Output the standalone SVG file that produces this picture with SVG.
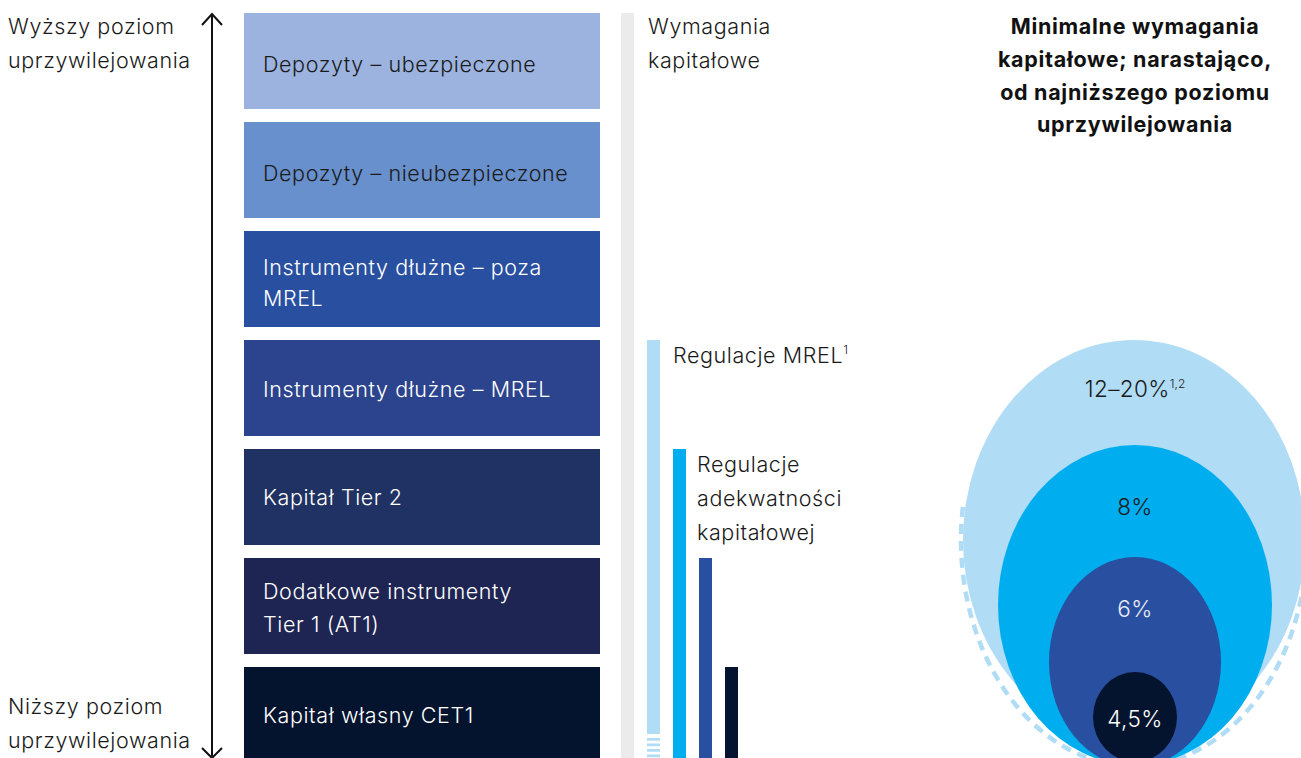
<svg xmlns="http://www.w3.org/2000/svg" width="1301" height="758" viewBox="0 0 1301 758">
  <defs>
    <style>
      text { font-family: Inter, "Liberation Sans", Arial, sans-serif; font-size: 21.5px; font-weight: 300; letter-spacing: 0.6px; }
      .dark { fill: #1a1a1a; }
      .light { fill: #ffffff; }
      .title { font-weight: 700; font-size: 21.5px; letter-spacing: 0.7px; fill: #111111; text-anchor: middle; }
      .pct { text-anchor: middle; font-size: 22.5px; letter-spacing: 0.4px; }
      .sup { font-size: 12px; letter-spacing: 0; }
      .axis { stroke: #111111; stroke-width: 2; fill: none; }
    </style>
  </defs>
  <rect width="1301" height="758" fill="#ffffff"/>

  <!-- priority axis -->
  <g id="axis">
    <line class="axis" x1="212" y1="15" x2="212" y2="756"/>
    <polyline class="axis" points="202,25 212,14 222,25"/>
    <polyline class="axis" points="202,748 212,758 222,748"/>
    <text class="dark" x="8" y="34">Wyższy poziom</text>
    <text class="dark" x="8" y="68">uprzywilejowania</text>
    <text class="dark" x="8" y="714">Niższy poziom</text>
    <text class="dark" x="8" y="748">uprzywilejowania</text>
  </g>

  <!-- liability layers -->
  <g id="layer-1">
    <rect x="244" y="13" width="356" height="96" fill="#9bb3de"/>
    <text class="dark" x="263" y="72">Depozyty – ubezpieczone</text>
  </g>
  <g id="layer-2">
    <rect x="244" y="122" width="356" height="96" fill="#6890cc"/>
    <text class="dark" x="263" y="181">Depozyty – nieubezpieczone</text>
  </g>
  <g id="layer-3">
    <rect x="244" y="231" width="356" height="96" fill="#284fa0"/>
    <text class="light" x="263" y="275">Instrumenty dłużne – poza</text>
    <text class="light" x="263" y="306">MREL</text>
  </g>
  <g id="layer-4">
    <rect x="244" y="340" width="356" height="96" fill="#2b448d"/>
    <text class="light" x="263" y="397">Instrumenty dłużne – MREL</text>
  </g>
  <g id="layer-5">
    <rect x="244" y="449" width="356" height="96" fill="#1f3263"/>
    <text class="light" x="263" y="505">Kapitał Tier 2</text>
  </g>
  <g id="layer-6">
    <rect x="244" y="558" width="356" height="96" fill="#1e2553"/>
    <text class="light" x="263" y="599">Dodatkowe instrumenty</text>
    <text class="light" x="263" y="632">Tier 1 (AT1)</text>
  </g>
  <g id="layer-7">
    <rect x="244" y="667" width="356" height="91" fill="#04142e"/>
    <text class="light" x="263" y="723">Kapitał własny CET1</text>
  </g>

  <!-- requirement bars -->
  <g id="requirements">
    <rect x="621" y="13" width="13" height="745" fill="#ebebeb"/>
    <text class="dark" x="648" y="34">Wymagania</text>
    <text class="dark" x="648" y="68">kapitałowe</text>
  </g>
  <g id="bar-mrel">
    <rect x="647" y="340" width="13" height="394" fill="#b0dcf6"/>
    <rect x="647" y="738" width="13" height="2.7" fill="#b0dcf6"/>
    <rect x="647" y="743.5" width="13" height="2.7" fill="#b0dcf6"/>
    <rect x="647" y="749" width="13" height="2.7" fill="#b0dcf6"/>
    <rect x="647" y="754.5" width="13" height="2.7" fill="#b0dcf6"/>
    <text class="dark" x="673" y="363">Regulacje MREL<tspan class="sup" dy="-9">1</tspan></text>
  </g>
  <g id="bar-capital">
    <rect x="673" y="449" width="13" height="309" fill="#00aeef"/>
    <text class="dark" x="697" y="472">Regulacje</text>
    <text class="dark" x="697" y="506">adekwatności</text>
    <text class="dark" x="697" y="540">kapitałowej</text>
  </g>
  <g id="bar-tier1">
    <rect x="699" y="558" width="13" height="200" fill="#284fa0"/>
  </g>
  <g id="bar-cet1">
    <rect x="725" y="667" width="13" height="91" fill="#04142e"/>
  </g>

  <!-- cumulative minimum requirements -->
  <g id="heading">
    <text class="title" x="1135" y="34">Minimalne wymagania</text>
    <text class="title" x="1135" y="67">kapitałowe; narastająco,</text>
    <text class="title" x="1135" y="100">od najniższego poziomu</text>
    <text class="title" x="1135" y="132">uprzywilejowania</text>
  </g>
  <g id="ring-mrel">
    <!-- upper bound of the range: dashed lower half of the outer ring -->
    <path d="M 962.9 507 A 173 226 0 0 0 961 540 A 173 226 0 0 0 1307 540" fill="none" stroke="#b0dcf6" stroke-width="4.5" stroke-dasharray="10 7"/>
    <ellipse cx="1134" cy="540" rx="171" ry="200" fill="#b0dcf6"/>
    <text class="dark pct" x="1135" y="397">12–20%<tspan class="sup" dy="-9">1,2</tspan></text>
  </g>
  <g id="ring-capital">
    <ellipse cx="1135" cy="605" rx="137" ry="160" fill="#00aeef"/>
    <text class="dark pct" x="1135" y="515">8%</text>
  </g>
  <g id="ring-tier1">
    <ellipse cx="1135" cy="662" rx="86" ry="105" fill="#284fa0"/>
    <text class="pct" x="1135" y="617" fill="#e8ecf6">6%</text>
  </g>
  <g id="ring-cet1">
    <ellipse cx="1135" cy="717" rx="42" ry="45" fill="#04142e"/>
    <text class="light pct" x="1135" y="727">4,5%</text>
  </g>
</svg>
